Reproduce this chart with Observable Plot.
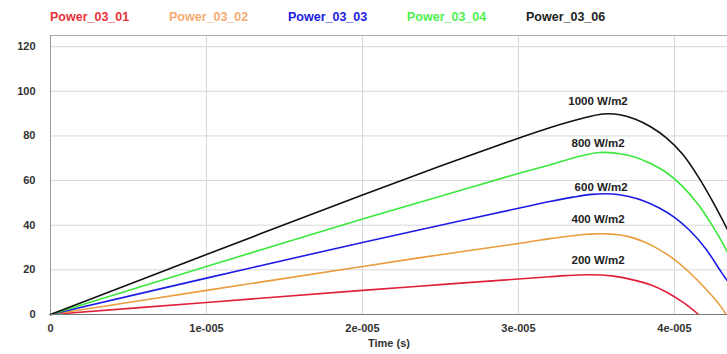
<!DOCTYPE html>
<html><head><meta charset="utf-8">
<script src="https://cdn.jsdelivr.net/npm/d3@7"></script>
<script src="https://cdn.jsdelivr.net/npm/@observablehq/plot@0.6"></script>
<style>
body{margin:0;background:#fff;font-family:"Liberation Sans",Arial,sans-serif;}
#legend{height:30px;position:relative;}
#legend span{position:absolute;top:10px;font-size:12.5px;font-weight:bold;white-space:nowrap;}
</style></head>
<body><div id="legend"></div><div id="chart"></div>
<script>
const seriesNames = ["Power_03_01","Power_03_02","Power_03_03","Power_03_04","Power_03_06"];
const seriesColors = ["#e0203a","#ea9c3c","#1c1ce6","#3ae83a","#111111"];
const legendColors = ["#e8323a","#f4ab70","#2020e0","#4ef04e","#222222"];
const irradianceLabels = ["200 W/m2","400 W/m2","600 W/m2","800 W/m2","1000 W/m2"];
const labelTime = [3.51e-5, 3.51e-5, 3.53e-5, 3.51e-5, 3.51e-5];
const labelPower = [24.2, 42.5, 56.8, 76.5, 95.3];

const time01 = [0,1e-5,2e-5,2.5e-5,3e-5,3.2e-5,3.3e-5,3.45e-5,3.6e-5,3.74e-5,3.85e-5,3.95e-5,4.06e-5,4.155e-5];
const power01 = [0,5.4,10.8,13.4,15.9,16.9,17.4,17.8,17.3,15.4,13.2,10.0,5.2,0];
const time02 = [0,1e-5,2e-5,2.5e-5,3e-5,3.2e-5,3.35e-5,3.45e-5,3.6e-5,3.7e-5,3.8e-5,3.9e-5,4.0e-5,4.1e-5,4.2e-5,4.3e-5,4.33e-5];
const power02 = [0,10.8,21.5,26.8,31.8,34.0,35.3,36.0,36,35,32.7,29.2,24.6,18.6,11.5,3.3,0];
const time03 = [0,1e-5,2e-5,2.5e-5,3e-5,3.2e-5,3.35e-5,3.47e-5,3.6e-5,3.7e-5,3.8e-5,3.9e-5,4.0e-5,4.1e-5,4.2e-5,4.3e-5,4.34e-5];
const power03 = [0,16.3,32.3,40,47.6,50.6,52.6,53.8,54,53,51,47.8,43.5,37.5,29.5,19,15];
const time04 = [0,1e-5,2e-5,2.5e-5,3e-5,3.2e-5,3.4e-5,3.52e-5,3.65e-5,3.75e-5,3.85e-5,3.95e-5,4.05e-5,4.15e-5,4.25e-5,4.34e-5];
const power04 = [0,21.5,42.8,53,63.2,67,71,72.6,72,70.5,67.5,63.5,57.5,49.5,39,28];
const time06 = [0,1e-5,2e-5,2.5e-5,3e-5,3.2e-5,3.4e-5,3.54e-5,3.65e-5,3.75e-5,3.85e-5,3.95e-5,4.05e-5,4.15e-5,4.25e-5,4.34e-5];
const power06 = [0,26.9,53.5,66.5,79,83.7,87.7,89.8,89.5,87.5,84,79,72,62,50,38];

const xTicks = [0,1e-5,2e-5,3e-5,4e-5];
const xTickLabels = ["0","1e-005","2e-005","3e-005","4e-005"];
const yTicks = [0,20,40,60,80,100,120];
const xTitle = "Time (s)";

const times = [time01,time02,time03,time04,time06];
const powers = [power01,power02,power03,power04,power06];
const rows = [];
seriesNames.forEach((s,i)=>times[i].forEach((t,j)=>rows.push({series:s,t,p:powers[i][j]})));
const labels = irradianceLabels.map((l,i)=>({l,t:labelTime[i],p:labelPower[i]}));

const leg = document.getElementById("legend");
seriesNames.forEach((s,i)=>{
  const sp=document.createElement("span");
  sp.textContent=s; sp.style.color=legendColors[i]; sp.style.left=(50+i*119)+"px";
  leg.appendChild(sp);
});

const chart = Plot.plot({
  width:727, height:324,
  marginLeft:50, marginRight:0, marginTop:5, marginBottom:40,
  style:{fontFamily:"Liberation Sans, Arial, sans-serif", fontSize:"11px", fontWeight:"bold", color:"#333"},
  x:{domain:[0,4.34e-5], ticks:xTicks, tickFormat:(d)=>xTickLabels[xTicks.indexOf(d)], tickSize:0, tickPadding:10, label:null},
  y:{domain:[0,125], ticks:yTicks, tickSize:0, tickPadding:15, label:null},
  color:{domain:seriesNames, range:seriesColors},
  marks:[
    Plot.gridX(xTicks.slice(1),{stroke:"#d8d8d8", strokeOpacity:1}),
    Plot.gridY(yTicks.slice(1),{stroke:"#d8d8d8", strokeOpacity:1}),
    Plot.ruleY([125],{stroke:"#aaa"}),
    Plot.ruleX([0],{stroke:"#999"}),
    Plot.line(rows,{x:"t",y:"p",z:"series",stroke:"series",strokeWidth:1.6,curve:"catmull-rom"}),
    Plot.ruleY([0],{stroke:"#777"}),
    Plot.text(labels,{x:"t",y:"p",text:"l",fill:"#222",fontSize:11.5,fontWeight:"bold"}),
    Plot.text([xTitle],{frameAnchor:"bottom",dy:32,fill:"#333",fontSize:11,fontWeight:"bold"}),
  ]
});
document.getElementById("chart").appendChild(chart);
</script></body></html>
